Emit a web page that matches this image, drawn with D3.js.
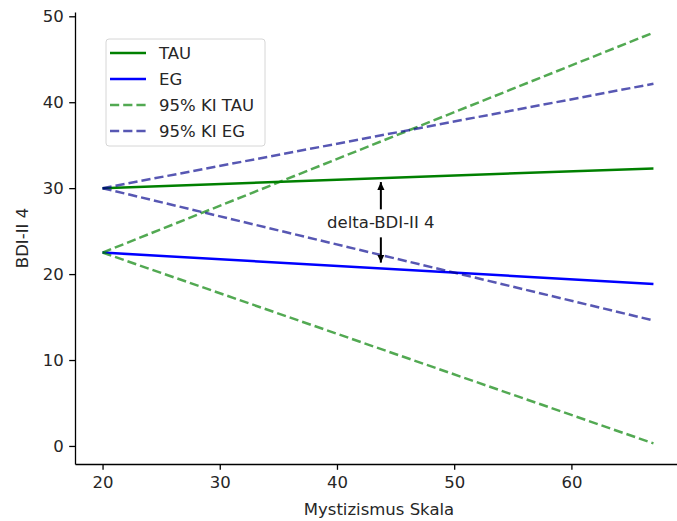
<!DOCTYPE html>
<html>
<head>
<meta charset="utf-8">
<script src="https://cdn.jsdelivr.net/npm/d3@7"></script>
<style>
  body { margin: 0; background: #fff; }
  text { font-family: "DejaVu Sans", sans-serif; fill: #262626; }
</style>
</head>
<body>
<div id="chart"></div>
<script>
// x range of the regression lines
var xStart = 20, xEnd = 67;

// [y at xStart, y at xEnd]
var tauLine = [30.0, 32.3];
var egLine = [22.5, 18.85];
var tauCiUpper = [22.5, 48.1];
var tauCiLower = [22.5, 0.3];
var egCiUpper = [30.0, 42.15];
var egCiLower = [30.0, 14.6];

var xTicks = [20, 30, 40, 50, 60];
var yTicks = [0, 10, 20, 30, 40, 50];

var dashed = "9.2,4";
var series = [
    {name: "TAU", ys: tauLine, color: "green", dash: null, alpha: 1, legend: true},
    {name: "EG", ys: egLine, color: "blue", dash: null, alpha: 1, legend: true},
    {name: "95% KI TAU", ys: tauCiUpper, color: "green", dash: dashed, alpha: 0.68, legend: true},
    {name: "95% KI TAU", ys: tauCiLower, color: "green", dash: dashed, alpha: 0.68, legend: false},
    {name: "95% KI EG", ys: egCiUpper, color: "darkblue", dash: dashed, alpha: 0.66, legend: true},
    {name: "95% KI EG", ys: egCiLower, color: "darkblue", dash: dashed, alpha: 0.66, legend: false}
];

var annotX = 44;
var annotLabel = "delta-BDI-II 4";

var width = 677, height = 521;
var margin = {left: 75, right: -4, top: 12, bottom: 57};
var fontSize = "16.5px";

var svg = d3.select("#chart").append("svg")
    .attr("width", width)
    .attr("height", height);

var x = d3.scaleLinear()
    .domain([17.65, 69.35])
    .range([margin.left, width - margin.right]);
var y = d3.scaleLinear()
    .domain([-2.1, 50.5])
    .range([height - margin.bottom, margin.top]);

// axes
var xAxis = svg.append("g")
    .attr("transform", "translate(0," + (height - margin.bottom) + ")")
    .call(d3.axisBottom(x).tickValues(xTicks).tickSize(5.8).tickSizeOuter(0).tickPadding(6.5));
var yAxis = svg.append("g")
    .attr("transform", "translate(" + margin.left + ",0)")
    .call(d3.axisLeft(y).tickValues(yTicks).tickSize(5.8).tickSizeOuter(0).tickPadding(5.5));

[xAxis, yAxis].forEach(function(ax) {
    ax.selectAll("path.domain").attr("stroke", "#000").attr("stroke-width", 1.3);
    ax.selectAll(".tick line").attr("stroke", "#000").attr("stroke-width", 1.3);
    ax.selectAll(".tick text").style("font-size", fontSize).attr("fill", "#262626");
});

svg.append("text")
    .attr("x", (x(17.65) + x(69.35)) / 2 + 1)
    .attr("y", 515)
    .attr("text-anchor", "middle")
    .style("font-size", fontSize)
    .text("Mystizismus Skala");

svg.append("text")
    .attr("transform", "translate(28," + ((y(-2.1) + y(50.5)) / 2) + ") rotate(-90)")
    .attr("text-anchor", "middle")
    .style("font-size", fontSize)
    .text("BDI-II 4");

// lines
var line = d3.line()
    .x(function(d) { return x(d[0]); })
    .y(function(d) { return y(d[1]); });

svg.append("g").selectAll("path.series")
    .data(series)
    .enter()
    .append("path")
    .attr("class", "series")
    .attr("d", function(d) { return line([[xStart, d.ys[0]], [xEnd, d.ys[1]]]); })
    .attr("fill", "none")
    .attr("stroke", function(d) { return d.color; })
    .attr("stroke-opacity", function(d) { return d.alpha; })
    .attr("stroke-width", 2.5)
    .attr("stroke-dasharray", function(d) { return d.dash; });

// annotation
function lineAt(ys, xv) {
    return ys[0] + (ys[1] - ys[0]) * (xv - xStart) / (xEnd - xStart);
}
var tauAt = lineAt(tauLine, annotX);
var egAt = lineAt(egLine, annotX);
var midY = (tauAt + egAt) / 2;

svg.append("defs").append("marker")
    .attr("id", "arrow")
    .attr("viewBox", "0 0 10 10")
    .attr("refX", 10)
    .attr("refY", 5)
    .attr("markerWidth", 8)
    .attr("markerHeight", 8)
    .attr("markerUnits", "userSpaceOnUse")
    .attr("orient", "auto")
    .append("path")
    .attr("d", "M0,0.5 L10,5 L0,9.5 z")
    .attr("fill", "#000");

var ax = x(annotX) - 3;
svg.append("line")
    .attr("x1", ax).attr("x2", ax)
    .attr("y1", y(midY) - 14).attr("y2", y(tauAt) + 4)
    .attr("stroke", "#000").attr("stroke-width", 2)
    .attr("marker-end", "url(#arrow)");
svg.append("line")
    .attr("x1", ax).attr("x2", ax)
    .attr("y1", y(midY) + 14).attr("y2", y(egAt) - 6)
    .attr("stroke", "#000").attr("stroke-width", 2)
    .attr("marker-end", "url(#arrow)");
svg.append("text")
    .attr("x", ax)
    .attr("y", y(midY) + 5)
    .attr("text-anchor", "middle")
    .style("font-size", fontSize)
    .text(annotLabel);

// legend
var legendItems = series.filter(function(d) { return d.legend; });
var legend = svg.append("g").attr("transform", "translate(106,39)");
legend.append("rect")
    .attr("width", 159).attr("height", 107)
    .attr("rx", 3)
    .attr("fill", "#fff").attr("fill-opacity", 0.8)
    .attr("stroke", "#d6d6d6").attr("stroke-width", 1);
var rows = legend.selectAll("g.row")
    .data(legendItems)
    .enter()
    .append("g")
    .attr("class", "row")
    .attr("transform", function(d, i) { return "translate(0," + (14 + i * 26) + ")"; });
rows.append("line")
    .attr("x1", 4).attr("x2", 40)
    .attr("stroke", function(d) { return d.color; })
    .attr("stroke-opacity", function(d) { return d.alpha; })
    .attr("stroke-width", 2.5)
    .attr("stroke-dasharray", function(d) { return d.dash; });
rows.append("text")
    .attr("x", 53)
    .attr("y", 6)
    .style("font-size", fontSize)
    .text(function(d) { return d.name; });
</script>
</body>
</html>
